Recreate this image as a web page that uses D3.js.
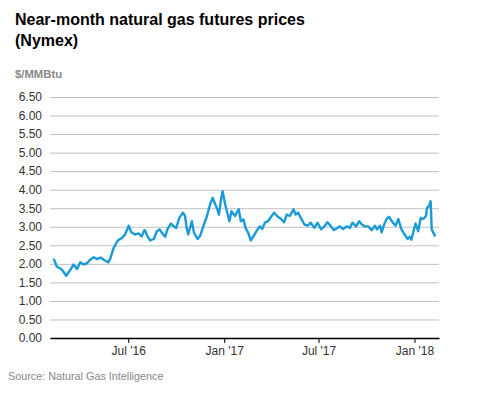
<!DOCTYPE html>
<html>
<head>
<meta charset="utf-8">
<script src="https://cdn.jsdelivr.net/npm/d3@7"></script>
<style>
  body { margin: 0; background: #fff; font-family: "Liberation Sans", Arial, sans-serif; }
  svg { display: block; }
</style>
</head>
<body>
<div id="chart"></div>
<script>
// near-month price
const dates = [
  "2016-02-09","2016-02-15","2016-02-25","2016-03-04","2016-03-12","2016-03-18","2016-03-25","2016-03-31",
  "2016-04-07","2016-04-13","2016-04-19","2016-04-26","2016-05-02","2016-05-09","2016-05-17","2016-05-24",
  "2016-05-28","2016-06-03","2016-06-11","2016-06-19","2016-06-25","2016-07-02","2016-07-07","2016-07-14",
  "2016-07-21","2016-07-27","2016-08-01","2016-08-03","2016-08-07","2016-08-12","2016-08-19","2016-08-25",
  "2016-08-30","2016-09-06","2016-09-10","2016-09-14","2016-09-21","2016-09-26","2016-10-01","2016-10-07",
  "2016-10-14","2016-10-18","2016-10-21","2016-10-24","2016-10-31","2016-11-04","2016-11-11","2016-11-16",
  "2016-11-22","2016-11-29","2016-12-05","2016-12-10","2016-12-15","2016-12-19","2016-12-22","2016-12-26",
  "2016-12-29","2017-01-03","2017-01-07","2017-01-11","2017-01-15","2017-01-22","2017-01-25","2017-01-29",
  "2017-02-02","2017-02-07","2017-02-11","2017-02-16","2017-02-21","2017-02-26","2017-03-04","2017-03-10",
  "2017-03-15","2017-03-20","2017-03-26","2017-04-02","2017-04-07","2017-04-14","2017-04-20","2017-04-26",
  "2017-05-01","2017-05-07","2017-05-14","2017-05-18","2017-05-23","2017-05-28","2017-06-04","2017-06-10",
  "2017-06-16","2017-06-23","2017-06-29","2017-07-06","2017-07-12","2017-07-18","2017-07-25","2017-07-30",
  "2017-08-05","2017-08-11","2017-08-17","2017-08-24","2017-08-30","2017-09-04","2017-09-11","2017-09-17",
  "2017-09-22","2017-09-28","2017-10-04","2017-10-11","2017-10-17","2017-10-21","2017-10-27","2017-10-30",
  "2017-11-03","2017-11-08","2017-11-13","2017-11-20","2017-11-26","2017-12-01","2017-12-07","2017-12-13",
  "2017-12-19","2017-12-23","2017-12-26","2017-12-31","2018-01-03","2018-01-08","2018-01-13","2018-01-18",
  "2018-01-23","2018-01-25","2018-01-29","2018-02-01","2018-02-03","2018-02-06","2018-02-10"
];
const prices = [
  2.14,1.93,1.84,1.68,1.84,1.98,1.86,2.04,
  1.98,2.02,2.11,2.18,2.13,2.17,2.09,2.04,
  2.16,2.43,2.63,2.70,2.79,3.03,2.85,2.79,
  2.82,2.74,2.91,2.88,2.74,2.63,2.67,2.88,
  2.93,2.79,2.73,2.93,3.09,3.01,2.97,3.24,
  3.38,3.29,2.97,2.79,3.15,2.84,2.67,2.76,
  3.01,3.29,3.60,3.78,3.60,3.47,3.33,3.74,
  3.96,3.60,3.38,3.15,3.42,3.29,3.38,3.47,
  3.15,3.20,2.97,2.84,2.63,2.74,2.88,3.01,
  2.94,3.11,3.15,3.29,3.38,3.27,3.21,3.12,
  3.33,3.29,3.47,3.33,3.38,3.24,3.06,3.03,
  3.11,2.97,3.11,2.93,3.01,3.12,3.01,2.91,
  2.96,3.01,2.94,3.01,2.97,3.11,3.01,3.15,
  3.06,3.01,3.01,2.91,3.03,2.93,3.03,2.85,
  3.03,3.20,3.27,3.12,3.03,3.21,2.93,2.79,
  2.67,2.73,2.65,2.93,3.09,2.88,3.24,3.21,
  3.29,3.51,3.56,3.69,2.93,2.84,2.74
];
const yTicks = [0, 0.5, 1, 1.5, 2, 2.5, 3, 3.5, 4, 4.5, 5, 5.5, 6, 6.5];
const xTickDates = ["2016-07-01", "2017-01-01", "2017-07-01", "2018-01-01"];
const xTickLabels = ["Jul '16", "Jan '17", "Jul '17", "Jan '18"];

const parse = d3.timeParse("%Y-%m-%d");
const data = dates.map((d, i) => ({ date: parse(d), value: prices[i] }));

const width = 477, height = 393;
const margin = { left: 50, right: 38, top: 97, bottom: 55 };

const svg = d3.select("#chart").append("svg")
  .attr("width", width)
  .attr("height", height);

// titles
svg.append("text")
  .attr("x", 15).attr("y", 25)
  .style("font-size", "16px").style("font-weight", "bold").attr("fill", "#000")
  .text("Near-month natural gas futures prices");
svg.append("text")
  .attr("x", 15).attr("y", 46)
  .style("font-size", "16px").style("font-weight", "bold").attr("fill", "#000")
  .text("(Nymex)");
svg.append("text")
  .attr("x", 15).attr("y", 78)
  .style("font-size", "11.3px").style("font-weight", "bold").attr("fill", "#888")
  .text("$/MMBtu");

const x = d3.scaleTime()
  .domain([parse("2016-02-02"), parse("2018-02-17")])
  .range([margin.left, width - margin.right]);

const y = d3.scaleLinear()
  .domain([0, 6.5])
  .range([height - margin.bottom, margin.top]);

// gridlines + y labels
const yAxis = svg.append("g")
  .attr("transform", `translate(${margin.left},0)`)
  .call(d3.axisLeft(y).tickValues(yTicks).tickFormat(d3.format(".2f"))
    .tickSize(-(width - margin.left - margin.right)).tickPadding(8));
yAxis.select(".domain").remove();
yAxis.selectAll(".tick line").attr("stroke", "#c0c0c0").attr("stroke-width", 1);
yAxis.selectAll(".tick text")
  .attr("fill", "#333").style("font-size", "12px")
  .style("font-family", "'Liberation Sans', Arial, sans-serif");

// x axis
const xAxis = svg.append("g")
  .attr("transform", `translate(0,${height - margin.bottom})`)
  .call(d3.axisBottom(x).tickValues(xTickDates.map(parse))
    .tickFormat((d, i) => xTickLabels[i]).tickSize(5).tickSizeOuter(0).tickPadding(3));
xAxis.select(".domain").attr("stroke", "#000").attr("stroke-width", 1.5);
xAxis.selectAll(".tick line").attr("stroke", "#000");
xAxis.selectAll(".tick text")
  .attr("fill", "#333").style("font-size", "12px")
  .style("font-family", "'Liberation Sans', Arial, sans-serif");

// price line
const line = d3.line()
  .x(d => x(d.date))
  .y(d => y(d.value));

svg.append("path")
  .datum(data)
  .attr("fill", "none")
  .attr("stroke", "#1a9bd7")
  .attr("stroke-width", 2.4)
  .attr("stroke-linejoin", "round")
  .attr("d", line);

// source
svg.append("text")
  .attr("x", 8).attr("y", 380)
  .style("font-size", "10.8px").attr("fill", "#888")
  .text("Source: Natural Gas Intelligence");
</script>
</body>
</html>
